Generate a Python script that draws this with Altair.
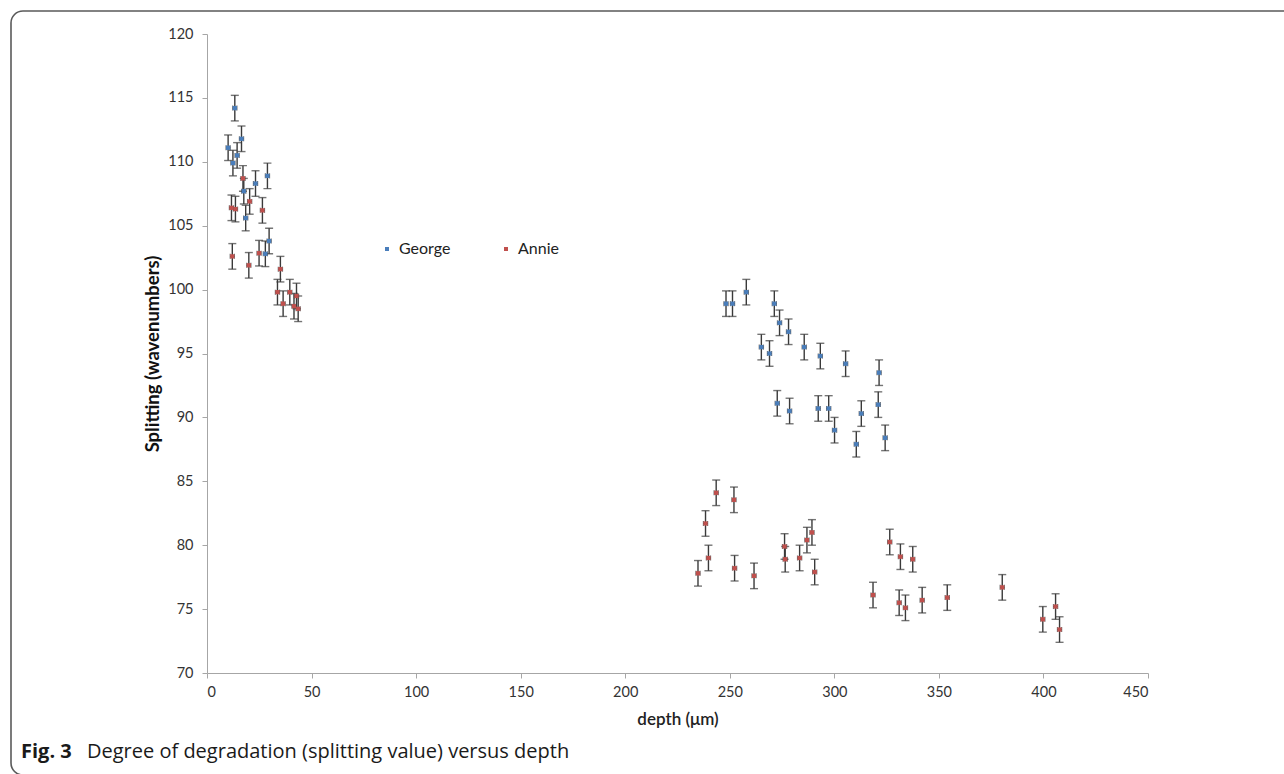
import altair as alt
import pandas as pd

# Splitting values (wavenumbers) against depth (um) for the two samples
george_depth = [13.3, 10.1, 16.5, 14.4, 12.4, 23.2, 28.9, 17.6, 18.5, 29.7, 27.9,
                248.2, 251.3, 257.9, 271.3, 273.8, 278.1, 265.1, 269.0, 285.6, 293.3,
                305.4, 321.4, 272.7, 278.6, 292.3, 297.3, 300.1, 310.5, 312.9, 321.0, 324.3]
george_split = [114.2, 111.1, 111.8, 110.5, 109.9, 108.3, 108.9, 107.7, 105.6, 103.8, 102.8,
                98.9, 98.9, 99.8, 98.9, 97.4, 96.7, 95.5, 95.0, 95.5, 94.8,
                94.2, 93.5, 91.1, 90.5, 90.7, 90.7, 89.0, 87.9, 90.3, 91.0, 88.4]

annie_depth = [17.2, 11.7, 13.6, 20.4, 26.5, 12.1, 20.0, 24.9, 35.1, 33.7, 36.4, 39.6, 42.8,
               41.6, 43.6, 243.5, 252.0, 238.4, 239.8, 234.8, 252.3, 261.6, 276.2, 276.5,
               283.4, 286.9, 289.3, 290.6, 326.5, 331.6, 318.5, 331.0, 334.0, 337.5, 342.0,
               354.0, 380.3, 399.7, 405.8, 407.7]
annie_split = [108.7, 106.4, 106.3, 106.9, 106.2, 102.6, 101.9, 102.85, 101.6, 99.8, 98.9,
               99.8, 99.5, 98.7, 98.5, 84.1, 83.55, 81.7, 79.0, 77.8, 78.2, 77.6, 79.9, 78.9,
               79.0, 80.4, 81.0, 77.9, 80.25, 79.1, 76.1, 75.5, 75.1, 78.9, 75.7,
               75.9, 76.7, 74.2, 75.2, 73.4]

series_names = ["George", "Annie"]
series_colors = ["#4a7ebb", "#c0504d"]
err_split = 1.0   # half-width of the splitting error bars
err_depth = 1.0   # half-width of the depth error bars

x_ticks = list(range(0, 451, 50))
y_ticks = list(range(70, 121, 5))

caption_bold = "Fig. 3"
caption_text = "Degree of degradation (splitting value) versus depth"

df = pd.concat([
    pd.DataFrame({"series": "George", "depth": george_depth, "split": george_split}),
    pd.DataFrame({"series": "Annie", "depth": annie_depth, "split": annie_split}),
], ignore_index=True)

W, H = 941, 639
AXIS_FONT = "Lato"
BAR_COLOR = "#3a3a3a"

x_scale = alt.Scale(domain=[0, 450], nice=False, zero=False)
y_scale = alt.Scale(domain=[70, 120], nice=False, zero=False)

base = alt.Chart(df).transform_calculate(
    ylo=f"datum.split - {err_split}",
    yhi=f"datum.split + {err_split}",
    xlo=f"datum.depth - {err_depth}",
    xhi=f"datum.depth + {err_depth}",
)

x_axis = alt.Axis(values=x_ticks, title="depth (μm)", grid=False,
                  domainColor="#a6a6a6", tickColor="#a6a6a6", tickSize=5,
                  labelFont=AXIS_FONT, labelFontSize=14.5, labelColor="#333333",
                  labelPadding=7, titleFont=AXIS_FONT, titleFontSize=17,
                  titleFontWeight=600, titleColor="#222222",
                  titleX=W / 2, titleY=46, titleBaseline="middle", titleAlign="center")
y_axis = alt.Axis(values=y_ticks, title="Splitting (wavenumbers)", grid=False,
                  domainColor="#a6a6a6", tickColor="#a6a6a6", tickSize=5,
                  labelFont=AXIS_FONT, labelFontSize=14.5, labelColor="#333333",
                  labelPadding=9, titleFont=AXIS_FONT, titleFontSize=18.5,
                  titleFontWeight="bold", titleColor="#111111",
                  titleX=-55, titleY=H / 2, titleAngle=270,
                  titleBaseline="middle", titleAlign="center")

vbar = base.mark_rule(color=BAR_COLOR, strokeWidth=1.4).encode(
    x=alt.X("depth:Q", scale=x_scale, axis=x_axis),
    y=alt.Y("ylo:Q", scale=y_scale, axis=y_axis),
    y2="yhi:Q",
)
cap_lo = base.mark_tick(color=BAR_COLOR, orient="horizontal", size=8, thickness=1.4).encode(
    x="depth:Q", y="ylo:Q")
cap_hi = base.mark_tick(color=BAR_COLOR, orient="horizontal", size=8, thickness=1.4).encode(
    x="depth:Q", y="yhi:Q")
hbar = base.mark_rule(color=BAR_COLOR, strokeWidth=1.2).encode(
    x="xlo:Q", x2="xhi:Q", y="split:Q")
hcap_lo = base.mark_tick(color=BAR_COLOR, orient="vertical", size=5, thickness=1.2).encode(
    x="xlo:Q", y="split:Q")
hcap_hi = base.mark_tick(color=BAR_COLOR, orient="vertical", size=5, thickness=1.2).encode(
    x="xhi:Q", y="split:Q")

points = base.mark_point(shape="square", filled=True, size=18, opacity=1).encode(
    x="depth:Q",
    y="split:Q",
    color=alt.Color("series:N",
                    scale=alt.Scale(domain=series_names, range=series_colors),
                    legend=alt.Legend(orient="none", legendX=172, legendY=207,
                                      direction="horizontal", title=None,
                                      symbolType="square", symbolSize=16,
                                      labelFont=AXIS_FONT, labelFontSize=16,
                                      labelColor="#222222", labelOffset=4,
                                      columnPadding=47, padding=0)),
)

# Rounded frame around the figure and the caption beneath it
frame = alt.Chart(pd.DataFrame({"k": [0]})).mark_rect(
    fillOpacity=0, stroke="#5a5a5a", strokeWidth=1.6, cornerRadius=12
).encode(x=alt.value(-196), x2=alt.value(1100), y=alt.value(-23), y2=alt.value(741))

cap1 = alt.Chart(pd.DataFrame({"t": [caption_bold]})).mark_text(
    font="Open Sans", fontSize=20, fontWeight="bold", color="#1a1a1a",
    align="left", baseline="alphabetic"
).encode(text="t:N", x=alt.value(-186), y=alt.value(724))
cap2 = alt.Chart(pd.DataFrame({"t": [caption_text]})).mark_text(
    font="Open Sans", fontSize=20, color="#1a1a1a",
    align="left", baseline="alphabetic"
).encode(text="t:N", x=alt.value(-120), y=alt.value(724))

chart = alt.layer(
    frame, vbar, cap_lo, cap_hi, hbar, hcap_lo, hcap_hi, points, cap1, cap2
).properties(
    width=W, height=H,
    autosize=alt.AutoSizeParams(type="none"),
    padding={"left": 207, "top": 34, "right": 136, "bottom": 101},
).configure(background="white").configure_view(strokeWidth=0)

chart.save("out.html", embed_options={"renderer": "svg", "actions": False})
